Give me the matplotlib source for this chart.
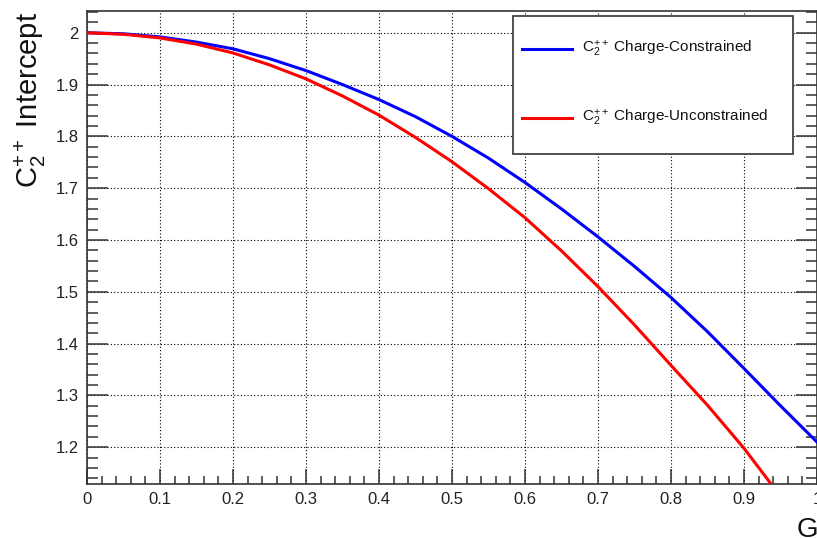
import matplotlib.pyplot as plt
from matplotlib.patches import Rectangle
from matplotlib.ticker import MultipleLocator, FormatStrFormatter

plt.rcParams['font.family'] = ['Liberation Sans', 'DejaVu Sans']
plt.rcParams['mathtext.fontset'] = 'custom'
plt.rcParams['mathtext.rm'] = 'Liberation Sans'
plt.rcParams['mathtext.it'] = 'Liberation Sans:italic'

g = [0.0, 0.05, 0.1, 0.15, 0.2, 0.25, 0.3, 0.35, 0.4, 0.45, 0.5,
     0.55, 0.6, 0.65, 0.7, 0.75, 0.8, 0.85, 0.9, 0.95, 1.0]
constrained = [2.0, 1.998, 1.992, 1.982, 1.969, 1.950, 1.927, 1.900, 1.871, 1.838, 1.800,
               1.758, 1.711, 1.660, 1.606, 1.549, 1.489, 1.423, 1.352, 1.280, 1.210]
unconstrained = [2.0, 1.997, 1.990, 1.978, 1.961, 1.938, 1.911, 1.878, 1.841, 1.798, 1.751,
                 1.699, 1.643, 1.579, 1.510, 1.436, 1.358, 1.281, 1.198, 1.105, 1.010]
labels = [r'$\mathregular{C_{2}^{++}}$ Charge-Constrained',
          r'$\mathregular{C_{2}^{++}}$ Charge-Unconstrained']
colors = ['#0000ff', '#ff0000']

fig = plt.figure(figsize=(8.17, 5.39), dpi=100)
ax = fig.add_axes([87 / 817, 1 - 484 / 539, 730 / 817, 473 / 539])

ax.plot(g, constrained, color=colors[0], lw=2.2, zorder=3)
ax.plot(g, unconstrained, color=colors[1], lw=2.2, zorder=3)

ax.set_xlim(0, 1.0)
ax.set_ylim(1.129, 2.042)
ax.xaxis.set_major_locator(MultipleLocator(0.1))
ax.xaxis.set_minor_locator(MultipleLocator(0.02))
ax.yaxis.set_major_locator(MultipleLocator(0.1))
ax.yaxis.set_minor_locator(MultipleLocator(0.02))
ax.xaxis.set_major_formatter(FormatStrFormatter('%g'))
ax.yaxis.set_major_formatter(FormatStrFormatter('%g'))

ax.grid(True, which='major', color='black', ls=(0, (1, 2)), lw=0.8)
for s in ax.spines.values():
    s.set_color('#333333')
    s.set_linewidth(1.2)

ax.tick_params(axis='both', which='both', direction='in', colors='#333333',
               labelcolor='#222222', labelsize=12, width=1.1)
ax.tick_params(axis='y', which='both', right=True, pad=6)
ax.tick_params(axis='y', which='major', length=15)
ax.tick_params(axis='y', which='minor', length=8)
ax.tick_params(axis='x', which='major', length=11, pad=6)
ax.tick_params(axis='x', which='minor', length=6)

# axis titles, aligned to the top / right end as in ROOT
fig.text(30 / 817, 1 - 12 / 539, r'$\mathregular{C_{2}^{++}}$ Intercept', rotation=90,
         ha='center', va='top', fontsize=21, color='#111111')
fig.text(797 / 817, 1 - 537 / 539, 'G', ha='left', va='baseline', fontsize=20,
         color='#111111')

# legend box
x0, x1 = (513 - 87) / 730, (793 - 87) / 730
y0, y1 = (484 - 154) / 473, (484 - 16) / 473
ax.add_patch(Rectangle((x0, y0), x1 - x0, y1 - y0, transform=ax.transAxes,
                       facecolor='white', edgecolor='#333333', lw=1.2, zorder=5))
for i, (lab, col) in enumerate(zip(labels, colors)):
    yy = (484 - (49 + 69 * i)) / 473
    ax.plot([(522 - 87) / 730, (572 - 87) / 730], [yy, yy], color=col, lw=2.2,
            transform=ax.transAxes, zorder=6, clip_on=False)
    ax.text((582 - 87) / 730, yy, lab, transform=ax.transAxes, fontsize=11,
            va='center', ha='left', color='#111111', zorder=6)

fig.savefig('out.png', dpi=100)
